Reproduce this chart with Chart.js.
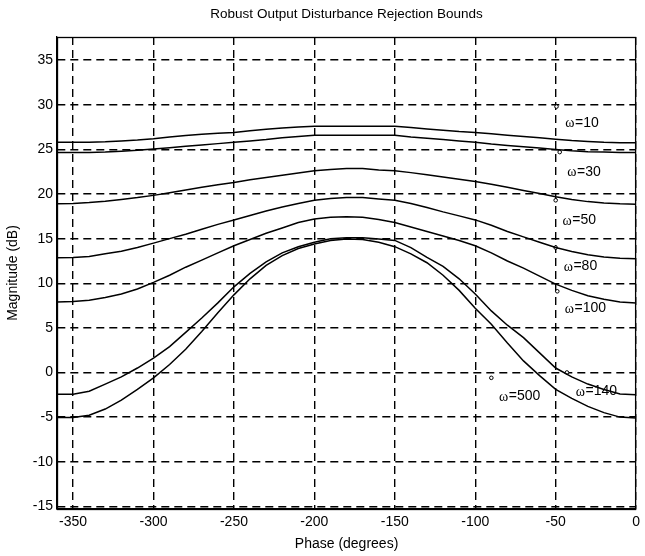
<!DOCTYPE html>
<html>
<head>
<meta charset="utf-8">
<script src="https://cdn.jsdelivr.net/npm/chart.js@4.4.1/dist/chart.umd.min.js"></script>
<style>
  html, body { margin: 0; padding: 0; background: #fff; }
  #wrap { width: 645px; height: 556px; }
</style>
</head>
<body>
<div id="wrap"><canvas id="bounds" width="645" height="556"></canvas></div>
<script>
// Data (phase in degrees, magnitude in dB)
const PHASE = [-360, -350, -340, -330, -320, -310, -300, -290, -280, -270, -260, -250, -240,
  -230, -220, -210, -200, -190, -180, -170, -160, -150, -140, -130, -120, -110, -100,
  -90, -80, -70, -60, -50, -40, -30, -20, -10, 0];

const W10 = [25.8, 25.8, 25.8, 25.85, 25.95, 26.05, 26.2, 26.4, 26.55, 26.7, 26.8, 26.9, 27.1,
  27.25, 27.4, 27.5, 27.6, 27.6, 27.6, 27.6, 27.6, 27.6, 27.45, 27.3, 27.15, 27.0, 26.9,
  26.75, 26.6, 26.45, 26.3, 26.15, 26.0, 25.9, 25.8, 25.75, 25.75];
const W30 = [24.65, 24.65, 24.65, 24.7, 24.8, 24.9, 25.05, 25.2, 25.35, 25.5, 25.65, 25.8, 25.95,
  26.1, 26.3, 26.45, 26.6, 26.6, 26.6, 26.6, 26.6, 26.6, 26.4, 26.25, 26.1, 25.95, 25.8,
  25.6, 25.45, 25.3, 25.15, 25.0, 24.85, 24.75, 24.7, 24.65, 24.65];
const W50 = [18.9, 18.95, 19.05, 19.2, 19.4, 19.6, 19.85, 20.15, 20.45, 20.75, 21.05, 21.3, 21.6,
  21.85, 22.1, 22.35, 22.6, 22.75, 22.85, 22.85, 22.7, 22.6, 22.4, 22.15, 21.9, 21.65, 21.4,
  21.1, 20.75, 20.4, 20.05, 19.7, 19.4, 19.15, 19.0, 18.9, 18.85];
const W80 = [12.85, 12.9, 13.0, 13.3, 13.6, 14.0, 14.5, 15.0, 15.5, 16.05, 16.6, 17.1, 17.6,
  18.1, 18.55, 18.95, 19.3, 19.5, 19.6, 19.6, 19.45, 19.3, 18.95, 18.5, 18.0, 17.55, 17.1,
  16.5, 15.8, 15.2, 14.6, 14.0, 13.55, 13.2, 12.95, 12.8, 12.75];
const W100 = [7.9, 7.95, 8.1, 8.4, 8.8, 9.35, 10.1, 10.9, 11.8, 12.6, 13.4, 14.2, 14.9,
  15.6, 16.2, 16.8, 17.2, 17.4, 17.45, 17.4, 17.15, 16.8, 16.3, 15.8, 15.3, 14.8, 14.2,
  13.4, 12.5, 11.7, 10.8, 9.9, 9.2, 8.6, 8.2, 7.9, 7.8];
const W140 = [-2.45, -2.45, -2.1, -1.3, -0.5, 0.5, 1.6, 2.9, 4.5, 6.1, 7.8, 9.6, 11.1,
  12.4, 13.4, 14.1, 14.6, 15.0, 15.1, 15.1, 14.95, 14.8, 14.0, 12.9, 11.9, 10.5, 8.8,
  6.9, 5.3, 3.9, 2.2, 0.5, -0.5, -1.3, -1.9, -2.4, -2.5];
const W500 = [-5.05, -5.05, -4.8, -4.1, -3.1, -1.9, -0.6, 0.9, 2.6, 4.6, 6.7, 8.7, 10.5,
  12.0, 13.1, 13.9, 14.4, 14.8, 14.95, 14.9, 14.6, 14.1, 13.3, 12.3, 10.9, 9.2, 7.2,
  5.4, 3.3, 1.3, -0.35, -1.9, -2.9, -3.8, -4.5, -5.0, -5.1];

// Small circle markers near the labels
const MARK_X = [-49.5, -47.5, -50, -50, -49, -90, -43];
const MARK_Y = [29.8, 24.7, 19.3, 14.0, 9.1, -0.6, 0.0];

// Curve labels (omega value, anchor position)
const LABEL_W = ["10", "30", "50", "80", "100", "140", "500"];
const LABEL_X = [-44, -42.8, -45.7, -45, -44.3, -37.5, -85.2];
const LABEL_Y = [28.0, 22.5, 17.1, 11.9, 7.2, -2.1, -2.65];

const X_TICKS = [-350, -300, -250, -200, -150, -100, -50, 0];
const Y_TICKS = [-15, -10, -5, 0, 5, 10, 15, 20, 25, 30, 35];

const SERIES = [W10, W30, W50, W80, W100, W140, W500];

const SANS = "'Liberation Sans', Arial, sans-serif";

function line(values) {
  return {
    type: "line",
    data: PHASE.map((p, i) => ({ x: p, y: values[i] })),
    borderColor: "#000",
    borderWidth: 1.5,
    pointRadius: 0,
    tension: 0,
    fill: false,
  };
}

// Title, frame and omega labels
const decorations = {
  id: "decorations",
  afterDraw(chart) {
    const { ctx, chartArea: a, scales } = chart;
    ctx.save();
    ctx.strokeStyle = "#000";
    ctx.lineWidth = 1.3;
    ctx.strokeRect(a.left + 0.5, a.top + 0.5, a.right - a.left - 1, a.bottom - a.top);

    ctx.fillStyle = "#000";
    ctx.textAlign = "center";
    ctx.textBaseline = "middle";
    ctx.font = "13.5px " + SANS;
    ctx.fillText("Robust Output Disturbance Rejection Bounds", (a.left + a.right) / 2, 14);

    ctx.textAlign = "left";
    LABEL_W.forEach((w, i) => {
      const px = scales.x.getPixelForValue(LABEL_X[i]);
      const py = scales.y.getPixelForValue(LABEL_Y[i]);
      ctx.font = "14px 'Liberation Serif', 'DejaVu Serif', serif";
      ctx.fillText("ω", px, py + 1);
      const ow = ctx.measureText("ω").width;
      ctx.font = "14px " + SANS;
      ctx.fillText("=" + w, px + ow + 0.5, py);
    });
    ctx.restore();
  },
};

const datasets = SERIES.map(line);
datasets.push({
  type: "scatter",
  data: MARK_X.map((x, i) => ({ x, y: MARK_Y[i] })),
  pointRadius: 1.8,
  pointBorderWidth: 1,
  pointBorderColor: "#000",
  pointBackgroundColor: "#fff",
});

new Chart(document.getElementById("bounds"), {
  type: "line",
  data: { datasets },
  plugins: [decorations],
  options: {
    responsive: false,
    animation: false,
    devicePixelRatio: 1,
    layout: { padding: { top: 37, right: 4, left: 0, bottom: 0 } },
    plugins: { legend: { display: false }, tooltip: { enabled: false } },
    scales: {
      x: {
        type: "linear",
        min: -360,
        max: 0,
        afterBuildTicks: (s) => { s.ticks = X_TICKS.map((v) => ({ value: v })); },
        afterFit: (s) => { s.height = 47; },
        grid: { color: "#000", lineWidth: 1.4, drawTicks: false },
        border: { display: true, color: "#000", width: 1.3, dash: [8, 5] },
        ticks: { color: "#000", font: { family: SANS, size: 14 }, padding: 5, maxRotation: 0, autoSkip: false },
        title: {
          display: true,
          text: "Phase (degrees)",
          color: "#000",
          font: { family: SANS, size: 14 },
          padding: { top: 0, bottom: 3 },
        },
      },
      y: {
        type: "linear",
        min: -15.3,
        max: 37.6,
        afterBuildTicks: (s) => { s.ticks = Y_TICKS.map((v) => ({ value: v })); },
        afterFit: (s) => { s.width = 57; },
        grid: { color: "#000", lineWidth: 1.4, drawTicks: false },
        border: { display: true, color: "#000", width: 1.3, dash: [8, 5] },
        ticks: { color: "#000", font: { family: SANS, size: 14 }, padding: 4 },
        title: {
          display: true,
          text: "Magnitude (dB)",
          color: "#000",
          font: { family: SANS, size: 14 },
          padding: { top: 5, bottom: 0 },
        },
      },
    },
  },
});
</script>
</body>
</html>
